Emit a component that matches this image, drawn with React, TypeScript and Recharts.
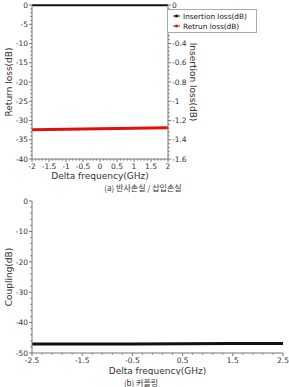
import React from 'react';
import { LineChart, Line, XAxis, YAxis, Legend, Label } from 'recharts';

const freqA = [-2, -1.5, -1, -0.5, 0, 0.5, 1, 1.5, 2];
const returnLoss = [-32.4, -32.35, -32.3, -32.2, -32.15, -32.1, -32.0, -31.95, -31.9];
const insertionLoss = [-0.003, -0.003, -0.003, -0.003, -0.003, -0.003, -0.003, -0.003, -0.003];

const freqB = [-2.5, -1.5, -0.5, 0.5, 1.5, 2.5];
const coupling = [-47.0, -47.0, -47.0, -46.95, -46.9, -46.9];

const xMajorA = [-2, -1.5, -1, -0.5, 0, 0.5, 1, 1.5, 2];
const yMajorA = [0, -5, -10, -15, -20, -25, -30, -35, -40];
const y2MajorA = [0, -0.2, -0.4, -0.6, -0.8, -1, -1.2, -1.4, -1.6];
const xMajorB = [-2.5, -1.5, -0.5, 0.5, 1.5, 2.5];
const yMajorB = [0, -10, -20, -30, -40, -50];

const dataA = freqA.map((f, i) => ({ f, rl: returnLoss[i], il: insertionLoss[i] }));
const dataB = freqB.map((f, i) => ({ f, c: coupling[i] }));

const range = (a: number, b: number, step: number) => {
  const out: number[] = [];
  const n = Math.round((b - a) / step);
  for (let i = 0; i <= n; i++) out.push(Math.round((a + i * step) * 1000) / 1000);
  return out;
};

const FONT = '"DejaVu Sans", Verdana, sans-serif';
const AX = '#777';
const TXT = '#333';

const isMajor = (v: number, majors: number[]) => majors.some((m) => Math.abs(m - v) < 1e-6);

const makeTick = (orient: 'bottom' | 'left' | 'right', majors: number[]) => (props: any) => {
  const { x, y, payload } = props;
  const v = payload.value;
  const major = isMajor(v, majors);
  const len = major ? 3 : 1.6;
  if (orient === 'bottom') {
    return (
      <g>
        <line x1={x} x2={x} y1={y} y2={y + len} stroke={AX} strokeWidth={1} />
        {major && (
          <text x={x} y={y + 10} textAnchor="middle" fontSize={7.5} fontFamily={FONT} fill={TXT}>
            {String(v)}
          </text>
        )}
      </g>
    );
  }
  if (orient === 'left') {
    return (
      <g>
        <line x1={x} x2={x - len} y1={y} y2={y} stroke={AX} strokeWidth={1} />
        {major && (
          <text x={x - 4} y={y + 2.7} textAnchor="end" fontSize={7.5} fontFamily={FONT} fill={TXT}>
            {String(v)}
          </text>
        )}
      </g>
    );
  }
  return (
    <g>
      <line x1={x} x2={x + len} y1={y} y2={y} stroke={AX} strokeWidth={1} />
      {major && (
        <text x={x + 4} y={y + 2.7} textAnchor="start" fontSize={7.5} fontFamily={FONT} fill={TXT}>
          {String(v)}
        </text>
      )}
    </g>
  );
};

const LegendBox = (props: any) => {
  const items = props.payload || [];
  return (
    <svg width={90} height={24} style={{ display: 'block' }}>
      <rect x={0.5} y={0.5} width={89} height={23} fill="#fff" stroke="#aaa" />
      {items.map((it: any, i: number) => {
        const cy = 7 + i * 10;
        return (
          <g key={it.value}>
            <line x1={6} x2={13} y1={cy} y2={cy} stroke={it.color} strokeWidth={1} />
            <circle cx={9.5} cy={cy} r={1.5} fill={it.color} />
            <text x={16} y={cy + 2.6} fontSize={7.3} fontFamily={FONT} fill="#111">
              {it.value}
            </text>
          </g>
        );
      })}
    </svg>
  );
};

const caption: React.CSSProperties = {
  position: 'absolute',
  fontFamily: '"Noto Sans CJK KR", serif',
  fontSize: 8,
  color: '#333',
  whiteSpace: 'nowrap',
  transform: 'translateX(-50%)',
};

export default function App() {
  return (
    <div style={{ position: 'absolute', left: 0, top: 0, width: 289, height: 387, background: '#fff' }}>
      <div style={{ position: 'absolute', left: 0, top: 0 }}>
        <LineChart width={289} height={182} data={dataA} margin={{ top: 5, right: 0, bottom: 0, left: 0 }}>
          <XAxis
            dataKey="f"
            type="number"
            domain={[-2, 2]}
            ticks={range(-2, 2, 0.1)}
            interval={0}
            height={23}
            stroke={AX}
            tickSize={0}
            tickMargin={0}
            tick={makeTick('bottom', xMajorA)}
          >
            <Label value="Delta frequency(GHz)" position="insideBottom" offset={3} fontSize={9} fontFamily={FONT} fill={TXT} />
          </XAxis>
          <YAxis
            yAxisId="left"
            orientation="left"
            type="number"
            domain={[-40, 0]}
            ticks={range(-40, 0, 1)}
            interval={0}
            width={32}
            stroke={AX}
            tickSize={0}
            tickMargin={0}
            tick={makeTick('left', yMajorA)}
          >
            <Label value="Return loss(dB)" angle={-90} position="insideLeft" offset={9} fontSize={9} fontFamily={FONT} fill={TXT} style={{ textAnchor: 'middle' }} />
          </YAxis>
          <YAxis
            yAxisId="right"
            orientation="right"
            type="number"
            domain={[-1.6, 0]}
            ticks={range(-1.6, 0, 0.04)}
            interval={0}
            width={31}
            stroke={AX}
            tickSize={0}
            tickMargin={0}
            tick={makeTick('right', y2MajorA)}
          >
            <Label value="Insertion loss(dB)" angle={90} position="insideRight" offset={6} fontSize={9} fontFamily={FONT} fill={TXT} style={{ textAnchor: 'middle' }} />
          </YAxis>
          <Legend
            layout="vertical"
            align="right"
            verticalAlign="top"
            content={LegendBox}
            wrapperStyle={{ top: 9, left: 167, right: 'auto', width: 90 }}
          />
          <Line yAxisId="right" dataKey="il" name="Insertion loss(dB)" stroke="#111" strokeWidth={2} dot={false} isAnimationActive={false} />
          <Line yAxisId="left" dataKey="rl" name="Retrun loss(dB)" stroke="#e01010" strokeWidth={3} dot={false} isAnimationActive={false} />
        </LineChart>
      </div>
      <div style={{ ...caption, left: 143, top: 182 }}>(a) 반사손실 / 삽입손실</div>

      <div style={{ position: 'absolute', left: 0, top: 195 }}>
        <LineChart width={289} height={180} data={dataB} margin={{ top: 6, right: 6, bottom: 0, left: 0 }}>
          <XAxis
            dataKey="f"
            type="number"
            domain={[-2.5, 2.5]}
            ticks={range(-2.5, 2.5, 0.2)}
            interval={0}
            height={22}
            stroke={AX}
            tickSize={0}
            tickMargin={0}
            tick={makeTick('bottom', xMajorB)}
          >
            <Label value="Delta frequency(GHz)" position="insideBottom" offset={1} fontSize={9} fontFamily={FONT} fill={TXT} />
          </XAxis>
          <YAxis
            type="number"
            domain={[-50, 0]}
            ticks={range(-50, 0, 2)}
            interval={0}
            width={32}
            stroke={AX}
            tickSize={0}
            tickMargin={0}
            tick={makeTick('left', yMajorB)}
          >
            <Label value="Coupling(dB)" angle={-90} position="insideLeft" offset={9} fontSize={9} fontFamily={FONT} fill={TXT} style={{ textAnchor: 'middle' }} />
          </YAxis>
          <Line dataKey="c" stroke="#111" strokeWidth={3} dot={false} isAnimationActive={false} />
        </LineChart>
      </div>
      <div style={{ ...caption, left: 141, top: 377 }}>(b) 커플링</div>
    </div>
  );
}
